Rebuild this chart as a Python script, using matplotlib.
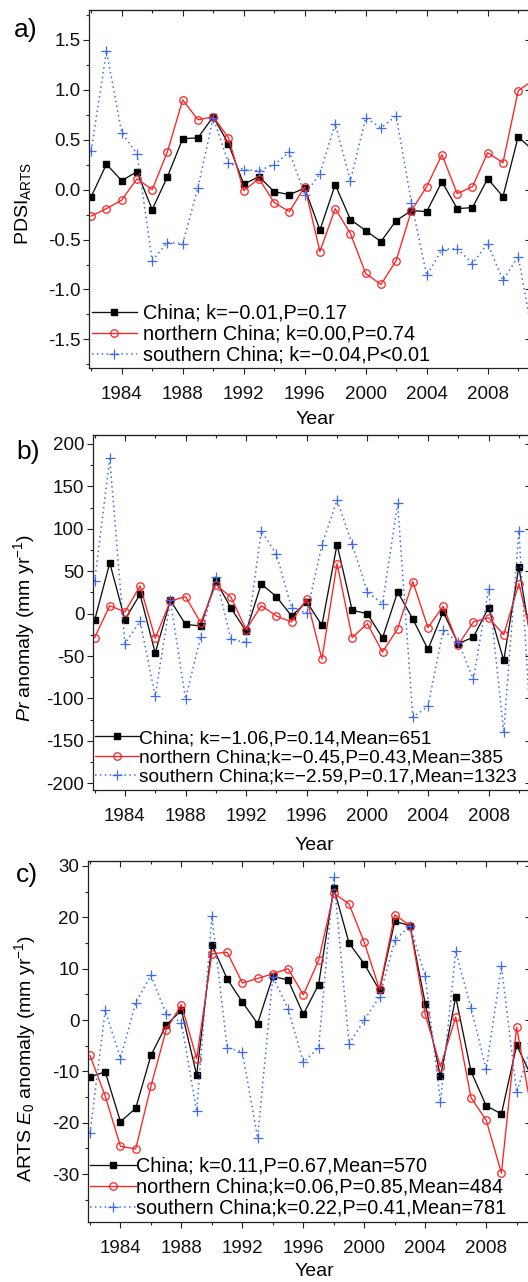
import matplotlib
matplotlib.use("Agg")
import matplotlib.pyplot as plt
from matplotlib.ticker import MultipleLocator

years = list(range(1982, 2012))

# a) PDSI (ARTS)
pdsi_china = [-0.07, 0.255, 0.09, 0.18, -0.20, 0.13, 0.51, 0.52, 0.73, 0.46,
              0.055, 0.13, -0.02, -0.05, 0.015, -0.405, 0.05, -0.30, -0.41, -0.52,
              -0.31, -0.21, -0.22, 0.08, -0.19, -0.18, 0.11, -0.07, 0.53, 0.39]
pdsi_north = [-0.265, -0.19, -0.105, 0.11, 0.0, 0.38, 0.90, 0.70, 0.73, 0.52,
              -0.01, 0.11, -0.13, -0.22, 0.03, -0.62, -0.19, -0.44, -0.84, -0.95,
              -0.71, -0.21, 0.03, 0.35, -0.04, 0.03, 0.37, 0.27, 0.99, 1.10]
pdsi_south = [0.39, 1.39, 0.57, 0.36, -0.71, -0.53, -0.54, 0.02, 0.72, 0.27,
              0.20, 0.19, 0.25, 0.38, -0.05, 0.16, 0.66, 0.09, 0.72, 0.62,
              0.74, -0.13, -0.86, -0.60, -0.59, -0.74, -0.54, -0.91, -0.67, -1.50]

# b) precipitation anomaly
pr_china = [-7.9, 59.8, -7.0, 22.8, -46.5, 15.7, -12.6, -14.6, 38.6, 6.7,
            -20.9, 35.0, 20.0, -2.8, 14.0, -13.8, 81.5, 3.9, 0.0, -28.7,
            25.6, -6.3, -42.1, 2.0, -35.4, -27.6, 7.1, -55.1, 55.1, -55.0]
pr_north = [-28.3, 9.4, 2.0, 32.7, -29.0, 15.0, 20.0, -10.6, 34.3, 19.3,
            -18.9, 9.4, -2.8, -9.8, 17.7, -53.5, 59.0, -28.3, -11.8, -45.3,
            -17.7, 37.8, -16.5, 8.7, -36.6, -9.8, -4.7, -24.8, 35.4, -40.0]
pr_south = [38.2, 183.0, -35.4, -9.0, -96.9, 15.7, -100.4, -27.6, 43.3, -30.3,
            -33.9, 97.6, 70.0, 6.7, 0.8, 80.7, 133.9, 81.9, 25.6, 11.8,
            130.0, -122.0, -109.4, -19.7, -33.5, -77.6, 29.5, -139.8, 97.6, -200.0]

# c) ARTS E0 anomaly
e0_china = [-11.1, -10.1, -19.8, -17.2, -6.9, -1.0, 1.9, -10.7, 14.7, 8.0,
            3.5, -0.7, 8.5, 7.8, 1.1, 6.9, 25.7, 15.0, 10.9, 5.8,
            19.2, 18.4, 3.2, -11.0, 4.5, -10.0, -16.7, -18.3, -4.9, -11.2]
e0_north = [-6.9, -14.8, -24.6, -25.1, -12.9, -1.9, 3.0, -7.5, 12.9, 13.2,
            7.2, 8.1, 9.0, 10.0, 4.9, 11.6, 24.7, 22.6, 15.1, 6.0,
            20.5, 18.4, 1.1, -9.1, 0.6, -15.1, -19.5, -29.8, -1.4, -18.1]
e0_south = [-22.1, 1.9, -7.5, 3.4, 8.7, 1.2, -0.5, -17.8, 20.2, -5.4,
            -6.2, -23.0, 8.4, 2.2, -8.2, -5.4, 27.8, -4.7, 0.0, 4.5,
            15.5, 18.4, 8.5, -15.9, 13.4, 2.4, -9.6, 10.5, -14.1, -4.4]

labels_a = ["China; k=\u22120.01,P=0.17",
            "northern China; k=0.00,P=0.74",
            "southern China; k=\u22120.04,P<0.01"]
labels_b = ["China; k=\u22121.06,P=0.14,Mean=651",
            "northern China;k=\u22120.45,P=0.43,Mean=385",
            "southern China;k=\u22122.59,P=0.17,Mean=1323"]
labels_c = ["China; k=0.11,P=0.67,Mean=570",
            "northern China;k=0.06,P=0.85,Mean=484",
            "southern China;k=0.22,P=0.41,Mean=781"]

W, H = 528, 1282
plt.rcParams['font.family'] = ['Liberation Sans', 'DejaVu Sans']
plt.rcParams['mathtext.fontset'] = 'custom'
plt.rcParams['mathtext.rm'] = 'Liberation Sans'
plt.rcParams['mathtext.it'] = 'Liberation Sans:italic'
plt.rcParams['mathtext.bf'] = 'Liberation Sans:bold'
plt.rcParams['axes.unicode_minus'] = False

RED = '#ff2222'
BLUE = '#3b6cf2'

fig = plt.figure(figsize=(W / 100, H / 100), dpi=100)


def px_axes(left, top, right, bottom):
    return fig.add_axes([left / W, 1 - bottom / H, (right - left) / W, (bottom - top) / H])


def draw_panel(ax, china, north, south, labels, xlim, ylim, ymaj, ymin,
               leg_anchor, textpad, legsize):
    ax.plot(years, china, color='#111111', lw=0.95, marker='s', ms=4.8,
            mfc='black', mec='black', label=labels[0])
    ax.plot(years, north, color=RED, lw=0.95, marker='o', ms=5.4,
            mfc='none', mec=RED, mew=0.9, label=labels[1])
    ax.plot(years, south, color=BLUE, lw=1.1, ls=(0, (1, 2.2)), marker='+', ms=7,
            mew=0.9, label=labels[2])
    ax.set_xlim(*xlim)
    ax.set_ylim(*ylim)

    ax.xaxis.set_major_locator(MultipleLocator(4))
    ax.xaxis.set_minor_locator(MultipleLocator(2))
    ax.yaxis.set_major_locator(MultipleLocator(ymaj))
    ax.yaxis.set_minor_locator(MultipleLocator(ymin))
    ax.tick_params(which='both', direction='out', width=0.8, colors='#222222',
                   labelsize=13.5, labelcolor='#111111')
    ax.tick_params(which='major', length=4)
    ax.tick_params(which='minor', length=2.5)
    ax.tick_params(axis='x', pad=9)
    ax.tick_params(axis='y', pad=2.5)
    for s in ax.spines.values():
        s.set_linewidth(0.9)
        s.set_color('#222222')

    # inward ticks on top and right
    top = ax.secondary_xaxis('top')
    top.xaxis.set_major_locator(MultipleLocator(4))
    top.xaxis.set_minor_locator(MultipleLocator(2))
    top.tick_params(which='both', direction='in', labeltop=False, width=0.8, colors='#222222')
    top.tick_params(which='major', length=4)
    top.tick_params(which='minor', length=2.5)
    right = ax.secondary_yaxis('right')
    right.yaxis.set_major_locator(MultipleLocator(ymaj))
    right.yaxis.set_minor_locator(MultipleLocator(ymin))
    right.tick_params(which='both', direction='in', labelright=False, width=0.8, colors='#222222')
    right.tick_params(which='major', length=4)
    right.tick_params(which='minor', length=2.5)

    ax.legend(loc='lower left', bbox_to_anchor=leg_anchor, frameon=False, fontsize=legsize,
              handlelength=2.3, handletextpad=textpad, labelspacing=0.1,
              borderpad=0, borderaxespad=0, numpoints=1)
    ax.set_xlabel('Year', fontsize=14)


# panel a
ax_a = px_axes(89.3, 10, 531, 368.3)
draw_panel(ax_a, pdsi_china, pdsi_north, pdsi_south, labels_a,
           (1981.875, 2010.84), (-1.79, 1.80), 0.5, 0.25, (0.005, 0.01), 0.3, 14.3)
ax_a.set_ylabel(r'PDSI$_{\mathrm{ARTS}}$', fontsize=14)
ax_a.xaxis.set_label_coords(0.511, -0.144)
ax_a.yaxis.set_label_coords(-0.150, 0.461)
ax_a.xaxis.label.set_va('center')
ax_a.yaxis.label.set_va('center')

# panel b
ax_b = px_axes(93.3, 435, 531, 790)
draw_panel(ax_b, pr_china, pr_north, pr_south, labels_b,
           (1981.914, 2010.80), (-207.9, 210.6), 50, 25, (0.004, 0.012), 0.0, 13.8)
ax_b.set_ylabel(r'$\it{Pr}$ anomaly (mm yr$^{-1}$)', fontsize=14)
ax_b.xaxis.set_label_coords(0.505, -0.155)
ax_b.yaxis.set_label_coords(-0.159, 0.456)
ax_b.xaxis.label.set_va('center')
ax_b.yaxis.label.set_va('center')

# panel c
ax_c = px_axes(88.3, 861, 531, 1221.8)
draw_panel(ax_c, e0_china, e0_north, e0_south, labels_c,
           (1981.89, 2010.94), (-39.3, 30.97), 10, 5, (0.004, 0.012), 0.0, 14.3)
ax_c.set_ylabel(r'ARTS $\it{E}_0$ anomaly (mm yr$^{-1}$)', fontsize=14)
ax_c.xaxis.set_label_coords(0.511, -0.139)
ax_c.yaxis.set_label_coords(-0.144, 0.454)
ax_c.xaxis.label.set_va('center')
ax_c.yaxis.label.set_va('center')

for txt, x, y in [('a)', 26, 30), ('b)', 28.5, 452), ('c)', 27, 875)]:
    fig.text(x / W, 1 - y / H, txt, fontsize=19, ha='center', va='center')

fig.savefig('out.png', dpi=100)
